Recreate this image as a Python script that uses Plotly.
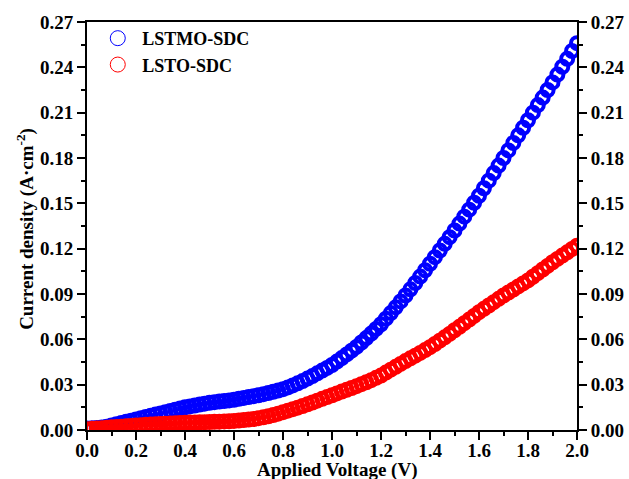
import plotly.graph_objects as go

voltage = [0.00, 0.02, 0.04, 0.06, 0.08, 0.10, 0.12, 0.14, 0.16, 0.18,
           0.20, 0.22, 0.24, 0.26, 0.28, 0.30, 0.32, 0.34, 0.36, 0.38,
           0.40, 0.42, 0.44, 0.46, 0.48, 0.50, 0.52, 0.54, 0.56, 0.58,
           0.60, 0.62, 0.64, 0.66, 0.68, 0.70, 0.72, 0.74, 0.76, 0.78,
           0.80, 0.82, 0.84, 0.86, 0.88, 0.90, 0.92, 0.94, 0.96, 0.98,
           1.00, 1.02, 1.04, 1.06, 1.08, 1.10, 1.12, 1.14, 1.16, 1.18,
           1.20, 1.22, 1.24, 1.26, 1.28, 1.30, 1.32, 1.34, 1.36, 1.38,
           1.40, 1.42, 1.44, 1.46, 1.48, 1.50, 1.52, 1.54, 1.56, 1.58,
           1.60, 1.62, 1.64, 1.66, 1.68, 1.70, 1.72, 1.74, 1.76, 1.78,
           1.80, 1.82, 1.84, 1.86, 1.88, 1.90, 1.92, 1.94, 1.96, 1.98,
           2.00]

lstmo_sdc = [0.0010, 0.0012, 0.0014, 0.0017, 0.0022, 0.0030, 0.0038, 0.0046, 0.0054, 0.0062,
             0.0070, 0.0078, 0.0086, 0.0094, 0.0102, 0.0110, 0.0118, 0.0126, 0.0134, 0.0142,
             0.0150, 0.0156, 0.0162, 0.0168, 0.0174, 0.0180, 0.0184, 0.0188, 0.0192, 0.0196,
             0.0200, 0.0206, 0.0212, 0.0218, 0.0224, 0.0230, 0.0237, 0.0245, 0.0253, 0.0261,
             0.0270, 0.0282, 0.0295, 0.0309, 0.0324, 0.0340, 0.0357, 0.0375, 0.0393, 0.0411,
             0.0430, 0.0453, 0.0476, 0.0500, 0.0525, 0.0550, 0.0579, 0.0608, 0.0638, 0.0669,
             0.0700, 0.0737, 0.0774, 0.0812, 0.0851, 0.0890, 0.0931, 0.0973, 0.1015, 0.1057,
             0.1100, 0.1144, 0.1188, 0.1232, 0.1276, 0.1320, 0.1366, 0.1412, 0.1458, 0.1504,
             0.1550, 0.1600, 0.1650, 0.1700, 0.1750, 0.1800, 0.1850, 0.1900, 0.1950, 0.2000,
             0.2050, 0.2100, 0.2150, 0.2200, 0.2250, 0.2300, 0.2352, 0.2404, 0.2456, 0.2508,
             0.2560]

lsto_sdc = [0.0005, 0.0008, 0.0010, 0.0012, 0.0015, 0.0018, 0.0020, 0.0022, 0.0025, 0.0027,
            0.0030, 0.0032, 0.0034, 0.0036, 0.0038, 0.0040, 0.0042, 0.0043, 0.0045, 0.0046,
            0.0048, 0.0049, 0.0050, 0.0051, 0.0052, 0.0053, 0.0054, 0.0055, 0.0057, 0.0058,
            0.0060, 0.0063, 0.0066, 0.0069, 0.0073, 0.0078, 0.0084, 0.0091, 0.0099, 0.0108,
            0.0118, 0.0128, 0.0138, 0.0148, 0.0159, 0.0170, 0.0182, 0.0194, 0.0206, 0.0218,
            0.0230, 0.0242, 0.0254, 0.0266, 0.0278, 0.0290, 0.0303, 0.0316, 0.0330, 0.0345,
            0.0360, 0.0380, 0.0399, 0.0418, 0.0437, 0.0456, 0.0474, 0.0492, 0.0510, 0.0529,
            0.0548, 0.0569, 0.0591, 0.0613, 0.0636, 0.0660, 0.0683, 0.0707, 0.0731, 0.0755,
            0.0780, 0.0802, 0.0824, 0.0846, 0.0868, 0.0890, 0.0910, 0.0930, 0.0950, 0.0970,
            0.0990, 0.1014, 0.1038, 0.1062, 0.1086, 0.1110, 0.1132, 0.1154, 0.1176, 0.1198,
            0.1220]

series_names = ["LSTMO-SDC", "LSTO-SDC"]
series_colors = ["#0000FF", "#FF0000"]

y_ticks = [0.00, 0.03, 0.06, 0.09, 0.12, 0.15, 0.18, 0.21, 0.24, 0.27]
y_ticklabels = ["0.00", "0.03", "0.06", "0.09", "0.12", "0.15", "0.18", "0.21", "0.24", "0.27"]
x_ticks = [0.0, 0.2, 0.4, 0.6, 0.8, 1.0, 1.2, 1.4, 1.6, 1.8, 2.0]
x_ticklabels = ["0.0", "0.2", "0.4", "0.6", "0.8", "1.0", "1.2", "1.4", "1.6", "1.8", "2.0"]
x_title = "Applied Voltage (V)"
y_title = "Current density (A·cm<sup>-2</sup>)"

FONT = "Liberation Serif"

fig = go.Figure()
for name, ys, col in zip(series_names, [lstmo_sdc, lsto_sdc], series_colors):
    fig.add_trace(go.Scatter(
        x=voltage, y=ys, mode="markers", name=name, showlegend=False,
        marker=dict(symbol="circle-open", size=12, color=col, line=dict(width=4, color=col)),
    ))
# legend entries (thin open circles, as in the reference legend)
for name, col in zip(series_names, series_colors):
    fig.add_trace(go.Scatter(
        x=[None], y=[None], mode="markers", name="\u00a0" + "<b>%s</b>" % name,
        marker=dict(symbol="circle-open", size=15, color=col, line=dict(width=1, color=col)),
    ))

# invisible trace to activate the mirrored right axis
fig.add_trace(go.Scatter(x=[voltage[0]], y=[lsto_sdc[0]], yaxis="y2", mode="markers",
                         marker=dict(opacity=0), showlegend=False, hoverinfo="skip"))

tickfont = dict(family=FONT, size=19, color="black")
common_y = dict(range=[0, 0.27], tickmode="array", tickvals=y_ticks,
                ticktext=["<b>%s</b>" % t for t in y_ticklabels],
                ticks="outside", ticklen=8, tickwidth=1.5, tickcolor="black",
                minor=dict(ticks="outside", ticklen=4, dtick=0.015, tickwidth=1.5, tickcolor="black"),
                showline=True, linewidth=2, linecolor="black", automargin=False,
                showgrid=False, zeroline=False, tickfont=tickfont)
fig.update_layout(
    width=629, height=479,
    margin=dict(l=87, r=52, t=22, b=49),
    paper_bgcolor="white", plot_bgcolor="white",
    font=dict(family=FONT, size=18, color="black"),
    showlegend=True,
    legend=dict(x=0.022, y=1.005, xanchor="left", yanchor="top",
                bgcolor="rgba(0,0,0,0)", font=dict(family=FONT, size=18, color="black"),
                itemsizing="trace", tracegroupgap=0),
    xaxis=dict(range=[0, 2.0], tickmode="array", tickvals=x_ticks,
               ticktext=["<b>%s</b>" % t for t in x_ticklabels],
               ticks="outside", ticklen=8, tickwidth=1.5, tickcolor="black",
               minor=dict(ticks="outside", ticklen=4, dtick=0.1, tickwidth=1.5, tickcolor="black"),
               showline=True, linewidth=2, linecolor="black", mirror=True,
               showgrid=False, zeroline=False, tickfont=tickfont, automargin=False,
               ticklabelstandoff=-6),
    yaxis=common_y,
    yaxis2=dict(common_y, overlaying="y", side="right"),
    annotations=[
        dict(text="<b>%s</b>" % x_title, xref="paper", yref="paper", x=0.51, y=-0.097,
             xanchor="center", yanchor="middle", showarrow=False,
             font=dict(family=FONT, size=19, color="black")),
        dict(text="<b>%s</b>" % y_title, xref="paper", yref="paper", x=-0.1245, y=0.493,
             xanchor="center", yanchor="middle", showarrow=False, textangle=-90,
             font=dict(family=FONT, size=19, color="black")),
    ],
)

fig.write_html("out.html")
